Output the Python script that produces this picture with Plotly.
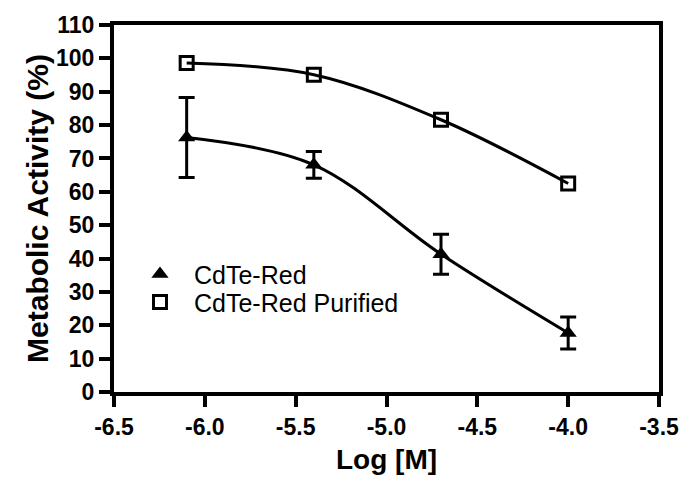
import plotly.graph_objects as go

# Data
log_conc = [-6.1, -5.4, -4.7, -4.0]
cdte_red = [76.3, 68.1, 41.3, 17.7]
cdte_red_err = [12.0, 4.0, 6.0, 4.8]
cdte_red_purified = [98.6, 95.1, 81.6, 62.5]

x_tick_vals = [-6.5, -6.0, -5.5, -5.0, -4.5, -4.0, -3.5]
x_tick_text = ["-6.5", "-6.0", "-5.5", "-5.0", "-4.5", "-4.0", "-3.5"]
y_tick_vals = [0, 10, 20, 30, 40, 50, 60, 70, 80, 90, 100, 110]
y_tick_text = [str(v) for v in y_tick_vals]

FONT = "Liberation Sans"

fig = go.Figure()

# fitted curves (smooth lines)
fig.add_trace(go.Scatter(
    x=log_conc, y=cdte_red, mode="lines", line=dict(color="black", width=3, shape="spline", smoothing=1.0),
    showlegend=False, hoverinfo="skip"))
fig.add_trace(go.Scatter(
    x=log_conc, y=cdte_red_purified, mode="lines", line=dict(color="black", width=3, shape="spline", smoothing=1.0),
    showlegend=False, hoverinfo="skip"))

# markers
fig.add_trace(go.Scatter(
    x=log_conc, y=cdte_red, mode="markers", name="CdTe-Red", legend="legend",
    marker=dict(symbol="triangle-up", size=15, color="black", line=dict(width=0)),
    error_y=dict(type="data", array=cdte_red_err, visible=True, color="black", thickness=3, width=8)))
fig.add_trace(go.Scatter(
    x=log_conc, y=cdte_red_purified, mode="markers", name="CdTe-Red Purified", legend="legend2",
    marker=dict(symbol="square-open", size=13, color="black", line=dict(width=3, color="black"))))

legend_common = dict(xanchor="left", yanchor="middle",
                     font=dict(family=FONT, size=25, color="black"),
                     bgcolor="rgba(0,0,0,0)", itemwidth=58)

fig.update_layout(
    width=691, height=483,
    margin=dict(l=114, r=28, t=25, b=90),
    paper_bgcolor="white", plot_bgcolor="white",
    font=dict(family=FONT, color="black"),
    legend=dict(x=0.022, y=0.3207, **legend_common),
    legend2=dict(x=0.022, y=0.2446, **legend_common),
    showlegend=True,
)

tick_font = dict(family=FONT, size=23, color="black", weight=700)

fig.update_xaxes(
    range=[-6.5, -3.5], tickvals=x_tick_vals, ticktext=x_tick_text,
    showline=True, linecolor="black", linewidth=4, mirror=True,
    ticks="outside", ticklen=11, tickwidth=4, tickcolor="black",
    showgrid=False, zeroline=False,
    tickfont=tick_font,
    title=dict(text="Log [M]", font=dict(family=FONT, size=28, color="black", weight=700), standoff=12),
)
fig.update_yaxes(
    range=[0, 110], tickvals=y_tick_vals, ticktext=y_tick_text,
    showline=True, linecolor="black", linewidth=4, mirror=True,
    ticks="outside", ticklen=11, tickwidth=4, tickcolor="black",
    showgrid=False, zeroline=False,
    tickfont=tick_font,
    title=dict(text="Metabolic Activity (%)", font=dict(family=FONT, size=30, color="black", weight=700), standoff=0),
)

fig.write_html("out.html")
